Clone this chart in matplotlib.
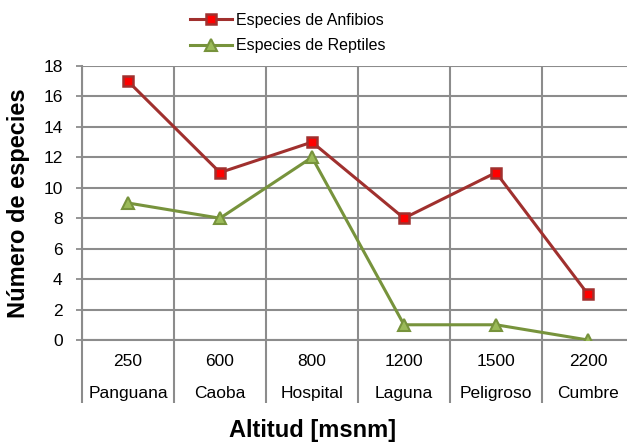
import matplotlib
matplotlib.use("Agg")
import matplotlib.pyplot as plt
from matplotlib.transforms import blended_transform_factory

plt.rcParams['font.family'] = ['Liberation Sans', 'DejaVu Sans']

altitudes = ["250", "600", "800", "1200", "1500", "2200"]
sitios = ["Panguana", "Caoba", "Hospital", "Laguna", "Peligroso", "Cumbre"]
anfibios = [17, 11, 13, 8, 11, 3]
reptiles = [9, 8, 12, 1, 1, 0]
yticks = [0, 2, 4, 6, 8, 10, 12, 14, 16, 18]

W, H = 627, 444
fig = plt.figure(figsize=(W / 100, H / 100), dpi=100)
left, right, top, bottom = 82, 634, 66, 340
ax = fig.add_axes([left / W, 1 - bottom / H, (right - left) / W, (bottom - top) / H])

grid_c = "#8c8c8c"
x = list(range(len(altitudes)))

ax.plot(x, anfibios, color="#A0302E", lw=2.2, marker="s", ms=6.5,
        mfc="#FF0000", mec="#A0302E", mew=1.8, label="Especies de Anfibios", zorder=4)
ax.plot(x, reptiles, color="#77933C", lw=2.2, marker="^", ms=8.5,
        mfc="#9BBB59", mec="#77933C", mew=1.5, label="Especies de Reptiles", zorder=4)

ax.set_xlim(-0.5, len(altitudes) - 0.5)
ax.set_ylim(0, 18)
ax.set_yticks(yticks)
ax.set_yticklabels([str(v) for v in yticks], fontsize=12.5)
ax.tick_params(axis="y", length=4, width=1.3, color=grid_c, pad=10, direction="out")

# category boundaries: grid lines inside, long ticks below for the two label rows
bounds = [i - 0.5 for i in range(len(altitudes) + 1)]
ax.set_xticks(x)
ax.set_xticklabels([])
ax.tick_params(axis="x", which="major", length=0)
ax.set_xticks(bounds, minor=True)
ax.tick_params(axis="x", which="minor", length=45, width=1.5, color=grid_c, direction="out")

ax.grid(axis="y", color=grid_c, lw=1.5, zorder=0)
ax.grid(axis="x", which="minor", color=grid_c, lw=1.5, zorder=0)

for s in ["top", "right", "bottom"]:
    ax.spines[s].set_visible(False)
ax.spines["left"].set_color(grid_c)
ax.spines["left"].set_linewidth(1.5)
ax.axhline(0, color=grid_c, lw=1.5, zorder=1, clip_on=False)

axh = bottom - top
tr = blended_transform_factory(ax.transData, ax.transAxes)
for i, (a, s) in enumerate(zip(altitudes, sitios)):
    ax.text(i, -21 / axh, a, transform=tr, ha="center", va="center", fontsize=12.5)
    ax.text(i, -53 / axh, s, transform=tr, ha="center", va="center", fontsize=12.5)

ax.set_ylabel("Número de especies", fontsize=17, fontweight="bold")
ax.yaxis.set_label_coords(-(left - 30) / (right - left), 0.5)
fig.text(313 / W, 1 - 430 / H, "Altitud [msnm]", ha="center", va="center",
         fontsize=17, fontweight="bold")

fig.legend(loc="center left", bbox_to_anchor=(190 / W, 1 - 33 / H), frameon=False,
           fontsize=11.5, handlelength=2.6, handletextpad=0.3, labelspacing=0.65,
           borderpad=0, borderaxespad=0)

fig.savefig("out.png", dpi=100)
